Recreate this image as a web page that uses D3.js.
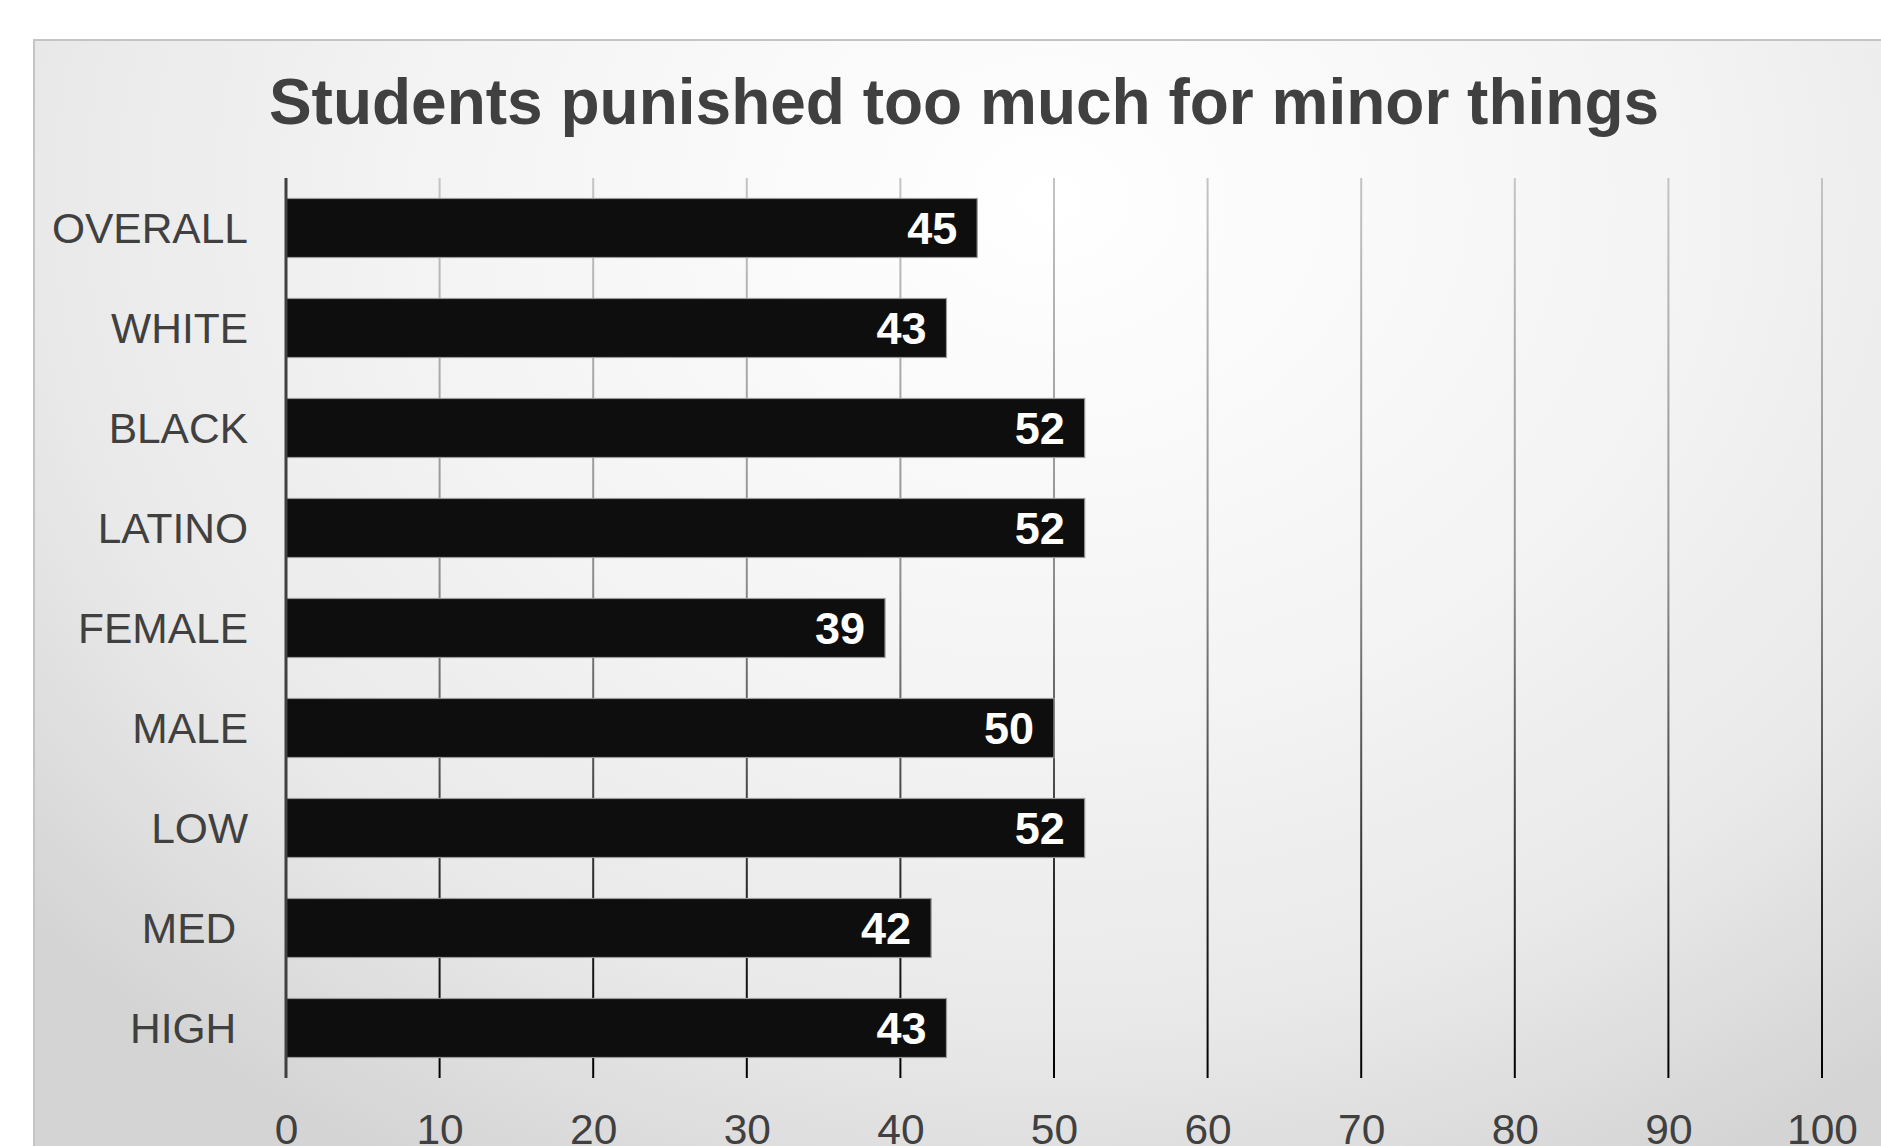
<!DOCTYPE html>
<html>
<head>
<meta charset="utf-8">
<script src="https://cdn.jsdelivr.net/npm/d3@7"></script>
<style>
  html, body { margin: 0; padding: 0; background: #ffffff; overflow: hidden; }
  svg { display: block; }
  .ylab { white-space: pre; }
</style>
</head>
<body>
<svg id="chart" width="1881" height="1146"></svg>
<script>
const titleText = "Students punished too much for minor things";
const categories = ["OVERALL", "WHITE", "BLACK", "LATINO", "FEMALE", "MALE", "LOW", "MED ", "HIGH "];
const values = [45, 43, 52, 52, 39, 50, 52, 42, 43];
const tickValues = [0, 10, 20, 30, 40, 50, 60, 70, 80, 90, 100];

const W = 1881, H = 1146;
const svg = d3.select("#chart");
const defs = svg.append("defs");

const bg = defs.append("radialGradient")
  .attr("id", "bgGrad")
  .attr("gradientUnits", "userSpaceOnUse")
  .attr("cx", 0).attr("cy", 0).attr("r", 1)
  .attr("gradientTransform", "translate(1050,200) scale(1350,1100)");
[["0", "#ffffff"], ["0.45", "#f4f4f4"], ["0.75", "#e9e9e9"], ["1", "#d4d4d4"]]
  .forEach(([o, c]) => bg.append("stop").attr("offset", o).attr("stop-color", c));

const gridGrad = defs.append("linearGradient")
  .attr("id", "gridGrad")
  .attr("gradientUnits", "userSpaceOnUse")
  .attr("x1", 0).attr("y1", 178).attr("x2", 0).attr("y2", 1078);
[["0", "#c4c4c4"], ["0.45", "#8c8c8c"], ["0.8", "#262626"], ["1", "#000000"]]
  .forEach(([o, c]) => gridGrad.append("stop").attr("offset", o).attr("stop-color", c));

// frame
svg.append("rect")
  .attr("x", 34).attr("y", 40)
  .attr("width", W).attr("height", H)
  .attr("fill", "url(#bgGrad)")
  .attr("stroke", "#c4c4c4").attr("stroke-width", 2);

const x = d3.scaleLinear().domain([0, 100]).range([286, 1822]);
const y = d3.scaleBand().domain(categories).range([178, 1078])
  .paddingInner(0.41).paddingOuter(0.205);

// title
svg.append("text")
  .attr("x", 964).attr("y", 124)
  .attr("text-anchor", "middle")
  .attr("font-family", "Liberation Sans, Arial, sans-serif")
  .attr("font-weight", "bold")
  .attr("font-size", 64)
  .attr("fill", "#404040")
  .text(titleText);

// gridlines
svg.append("g").selectAll("line")
  .data(tickValues.filter(d => d > 0))
  .join("line")
  .attr("x1", d => x(d)).attr("x2", d => x(d))
  .attr("y1", 178).attr("y2", 1078)
  .attr("stroke", "url(#gridGrad)")
  .attr("stroke-width", 2);

// bars
svg.append("g").selectAll("rect")
  .data(categories)
  .join("rect")
  .attr("x", x(0))
  .attr("y", d => y(d))
  .attr("width", (d, i) => x(values[i]) - x(0))
  .attr("height", y.bandwidth())
  .attr("fill", "#0e0e0e")
  .attr("stroke", "#9a9a9a")
  .attr("stroke-width", 1.2);

// value labels
svg.append("g").selectAll("text")
  .data(categories)
  .join("text")
  .attr("x", (d, i) => x(values[i]) - 20)
  .attr("y", d => y(d) + y.bandwidth() / 2)
  .attr("dy", "0.36em")
  .attr("text-anchor", "end")
  .attr("font-family", "Liberation Sans, Arial, sans-serif")
  .attr("font-weight", "bold")
  .attr("font-size", 45)
  .attr("fill", "#ffffff")
  .text((d, i) => values[i]);

// y axis
const yAxis = svg.append("g")
  .attr("transform", `translate(${x(0)},0)`)
  .call(d3.axisLeft(y).tickSize(0).tickPadding(38));
yAxis.select(".domain").remove();
yAxis.selectAll("text")
  .attr("class", "ylab")
  .attr("xml:space", "preserve")
  .attr("font-family", "Liberation Sans, Arial, sans-serif")
  .attr("font-size", 42.5)
  .attr("fill", "#404040")
  .attr("dy", "0.36em");

svg.append("line")
  .attr("x1", x(0)).attr("x2", x(0))
  .attr("y1", 178).attr("y2", 1078)
  .attr("stroke", "#404040").attr("stroke-width", 3);

// x axis labels
const xAxis = svg.append("g")
  .attr("transform", "translate(0,1078)")
  .call(d3.axisBottom(x).tickValues(tickValues).tickSize(0).tickPadding(0));
xAxis.select(".domain").remove();
xAxis.selectAll("text")
  .attr("font-family", "Liberation Sans, Arial, sans-serif")
  .attr("font-size", 42.5)
  .attr("fill", "#404040")
  .attr("dy", null)
  .attr("y", 66);
</script>
</body>
</html>
